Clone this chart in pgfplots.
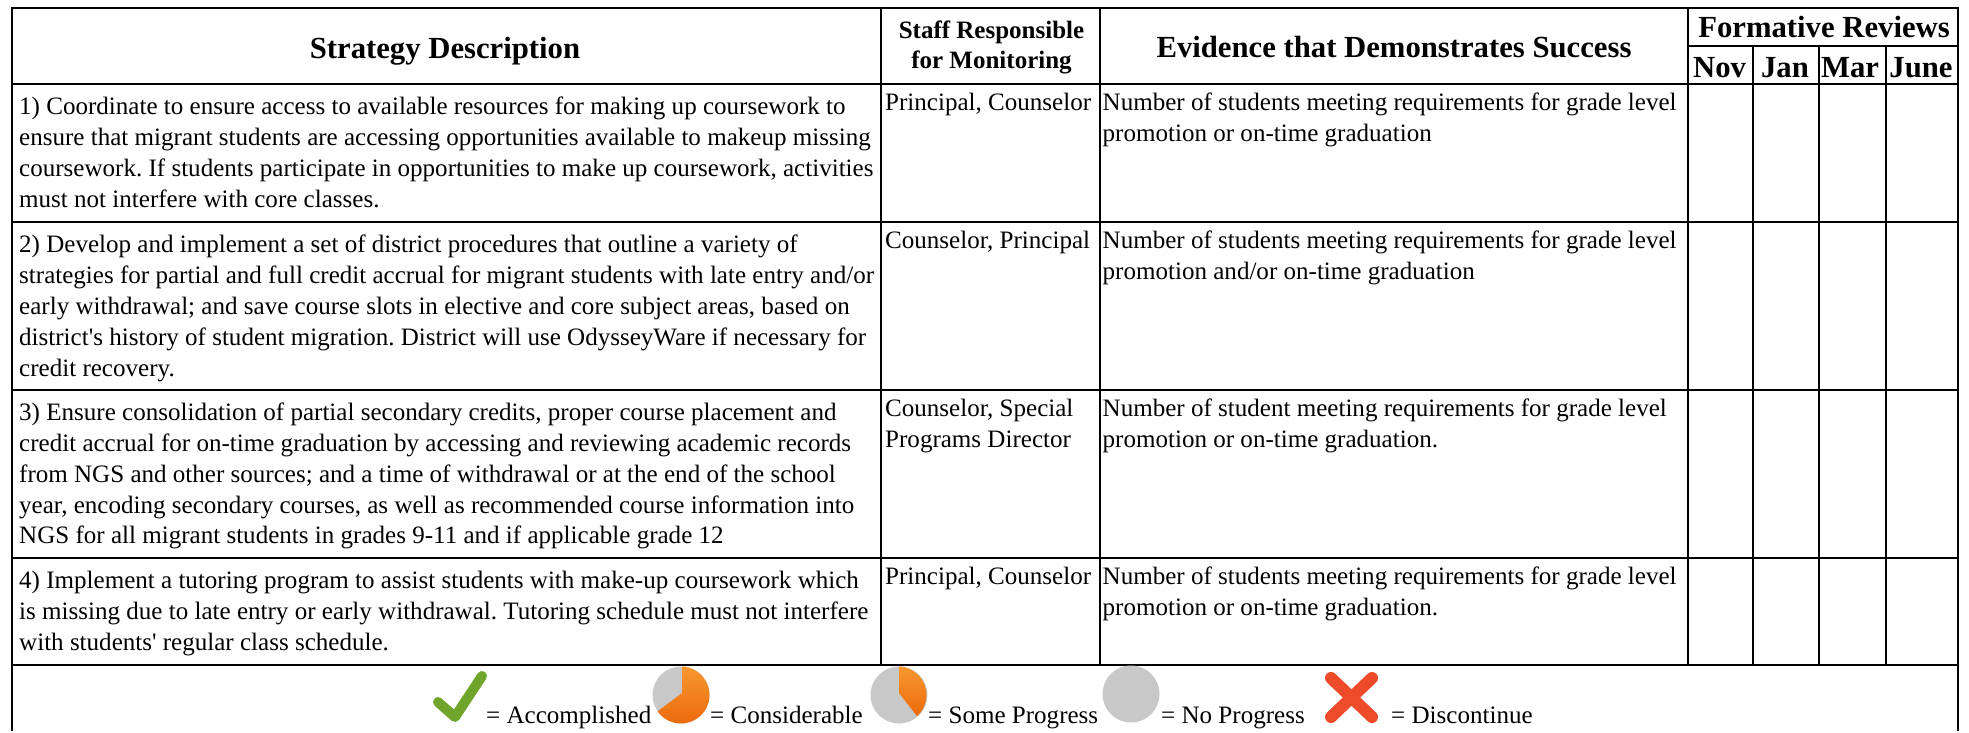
\documentclass[border=0pt]{standalone}
\usepackage{pgfplots}
\pgfplotsset{compat=1.18}
\usepackage{fontspec}
\setmainfont{Liberation Serif}[Ligatures=TeXOff]
\frenchspacing
\definecolor{chk}{HTML}{6FA52B}
\definecolor{orgA}{HTML}{F7982E}
\definecolor{orgB}{HTML}{EC6A0C}
\definecolor{gry}{HTML}{C8C8C8}
\definecolor{xrd}{HTML}{EE4B2B}
\newcommand{\T}[3]{\node[anchor=base west,inner sep=0pt,font=\fontsize{25.05}{25}\selectfont] at (axis cs:#1,#2) {#3};}
\newcommand{\C}[4]{\node[anchor=base,inner sep=0pt,font=\fontsize{#4}{#4}\selectfont\bfseries] at (axis cs:#1,#2) {#3};}
\newcommand{\LN}[4]{\addplot[black,line width=2pt,forget plot] coordinates {(#1,#2) (#3,#4)};}
\begin{document}
\begin{tikzpicture}
\begin{axis}[width=1969pt,height=731pt,scale only axis,xmin=0,xmax=1969,ymin=0,ymax=731,y dir=reverse,hide axis,clip=false]
\path (axis cs:0,0) rectangle (axis cs:1969,731);
\LN{11}{8}{1959}{8}
\LN{12}{84}{1958}{84}
\LN{12}{222}{1958}{222}
\LN{12}{390}{1958}{390}
\LN{12}{558}{1958}{558}
\LN{12}{665}{1958}{665}
\LN{12}{8}{12}{731}
\LN{1958}{8}{1958}{731}
\LN{881}{8}{881}{665}
\LN{1100}{8}{1100}{665}
\LN{1688}{8}{1688}{665}
\LN{1753}{46}{1753}{665}
\LN{1819}{46}{1819}{665}
\LN{1886}{46}{1886}{665}
\LN{1688}{46}{1958}{46}
\C{445}{58}{Strategy Description}{30.7}
\C{991.5}{38}{Staff Responsible}{25}
\C{991.5}{68}{for Monitoring}{25}
\C{1394}{57}{Evidence that Demonstrates Success}{30.7}
\C{1824}{37}{Formative Reviews}{30.7}
\C{1719.5}{77}{Nov}{30.7}
\C{1785}{77}{Jan}{30.7}
\C{1850}{77}{Mar}{30.7}
\C{1921}{77}{June}{30.7}
\T{19}{114}{1) Coordinate to ensure access to available resources for making up coursework to}
\T{19}{145}{ensure that migrant students are accessing opportunities available to makeup missing}
\T{19}{176}{coursework. If students participate in opportunities to make up coursework, activities}
\T{19}{207}{must not interfere with core classes.}
\T{19}{252}{2) Develop and implement a set of district procedures that outline a variety of}
\T{19}{283}{strategies for partial and full credit accrual for migrant students with late entry and/or}
\T{19}{314}{early withdrawal; and save course slots in elective and core subject areas, based on}
\T{19}{345}{district's history of student migration. District will use OdysseyWare if necessary for}
\T{19}{376}{credit recovery.}
\T{19}{420}{3) Ensure consolidation of partial secondary credits, proper course placement and}
\T{19}{451}{credit accrual for on-time graduation by accessing and reviewing academic records}
\T{19}{482}{from NGS and other sources; and a time of withdrawal or at the end of the school}
\T{19}{513}{year, encoding secondary courses, as well as recommended course information into}
\T{19}{543}{NGS for all migrant students in grades 9-11 and if applicable grade 12}
\T{19}{588}{4) Implement a tutoring program to assist students with make-up coursework which}
\T{19}{619}{is missing due to late entry or early withdrawal. Tutoring schedule must not interfere}
\T{19}{650}{with students' regular class schedule.}
\T{885}{110}{Principal, Counselor}
\T{885}{248}{Counselor, Principal}
\T{885}{416}{Counselor, Special}
\T{885}{447}{Programs Director}
\T{885}{584}{Principal, Counselor}
\T{1102.5}{110}{Number of students meeting requirements for grade level}
\T{1102.5}{141}{promotion or on-time graduation}
\T{1102.5}{248}{Number of students meeting requirements for grade level}
\T{1102.5}{279}{promotion and/or on-time graduation}
\T{1102.5}{416}{Number of student meeting requirements for grade level}
\T{1102.5}{447}{promotion or on-time graduation.}
\T{1102.5}{584}{Number of students meeting requirements for grade level}
\T{1102.5}{615}{promotion or on-time graduation.}
\T{486}{723}{= Accomplished}
\T{710}{723}{= Considerable}
\T{928}{723}{= Some Progress}
\T{1161}{723}{= No Progress}
\T{1391}{723}{= Discontinue}
% legend icons
\draw[chk,line width=10pt,line cap=round,line join=round] (axis cs:438,702) -- (axis cs:455,717) -- (axis cs:482,676);
\fill[gry] (axis cs:681,695) circle[radius=28.5pt];
\shade[top color=orgA,bottom color=orgB] (axis cs:682,693) -- +(90:26.5pt) arc[start angle=88,end angle=-145,radius=28.5pt] -- cycle;
\fill[gry] (axis cs:899,695) circle[radius=28.5pt];
\shade[top color=orgA,bottom color=orgB] (axis cs:899,693) -- +(90:26.5pt) arc[start angle=88,end angle=-48,radius=28.5pt] -- cycle;
\fill[gry] (axis cs:1131,694) circle[radius=28.5pt];
\draw[xrd,line width=12pt,line cap=round] (axis cs:1331,678) -- (axis cs:1372,717);
\draw[xrd,line width=12pt,line cap=round] (axis cs:1372,678) -- (axis cs:1331,717);
\end{axis}
\end{tikzpicture}
\end{document}
